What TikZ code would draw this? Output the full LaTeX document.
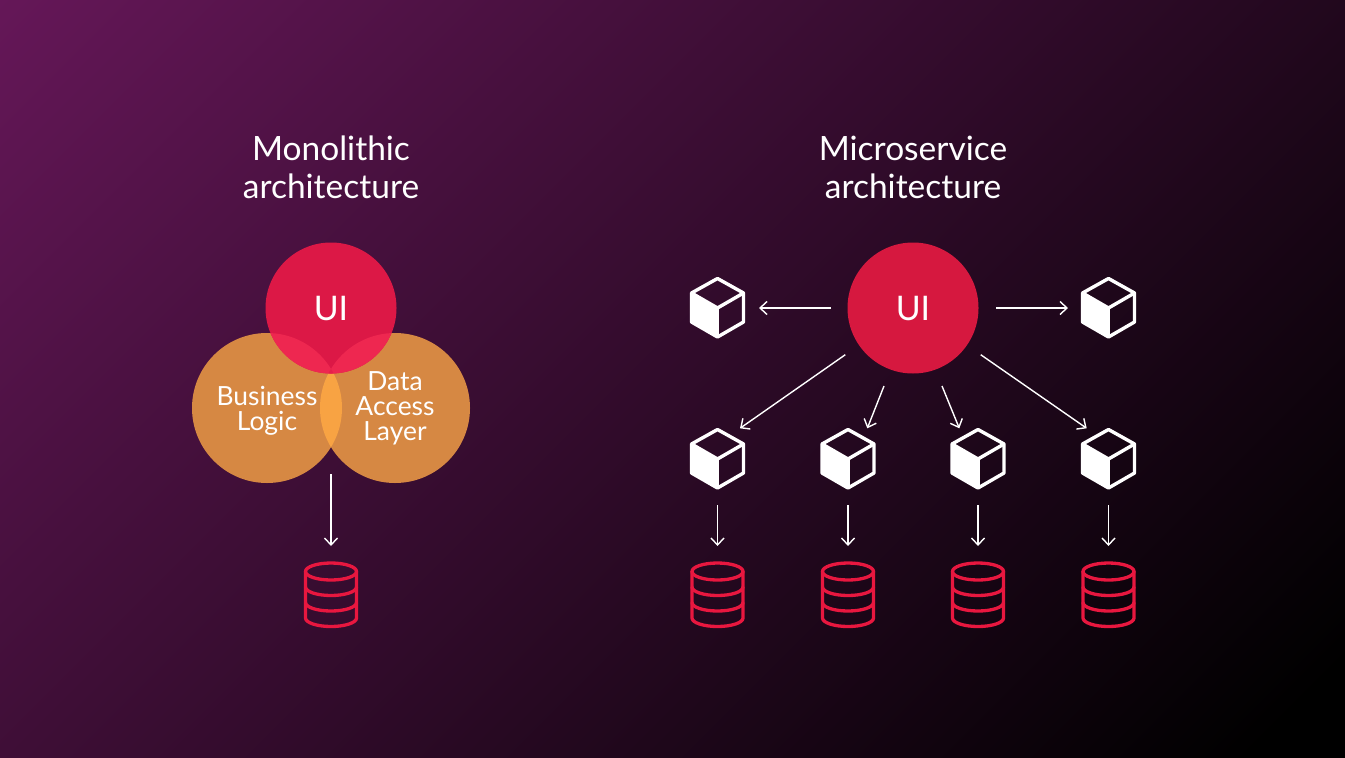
\documentclass[tikz,border=0pt]{standalone}
\usepackage{fontspec}
\setmainfont{Lato}
\usetikzlibrary{arrows.meta,calc}
\definecolor{bgA}{HTML}{651758}
\definecolor{bgB}{HTML}{000000}
\definecolor{uiRed}{HTML}{DC1846}
\definecolor{uiRedB}{HTML}{D6183F}
\definecolor{lapRed}{HTML}{EE2750}
\definecolor{orangeC}{HTML}{D68843}
\definecolor{lapOrange}{HTML}{F8A343}
\definecolor{dbRed}{HTML}{E8173F}
\pgfdeclarehorizontalshading{bgshade}{1490bp}{color(0bp)=(bgA); color(1420bp)=(bgB); color(1490bp)=(bgB)}
\tikzset{
  titletext/.style={text=white,align=center,font=\fontsize{33.6}{38}\selectfont,inner sep=0pt},
  labeltext/.style={text=white,align=center,font=\fontsize{26.5}{25}\selectfont,inner sep=0pt},
  uitext/.style={text=white,font=\fontsize{34}{38}\selectfont,inner sep=0pt},
  arrowline/.style={draw=white,line width=1.4bp,-{Straight Barb[length=7bp,width=13bp,line width=1.4bp]}},
  anchorbox/.style={inner sep=0pt,minimum size=1bp},
  cubeline/.style={draw=white,line width=3.4bp,line join=round},
  dbline/.style={draw=dbRed,line width=3.3bp,line cap=round,line join=round}
}
\newcommand{\cubeicon}[3]{% name, x, y
  \node[anchorbox] (#1) at (#2,#3) {};
  \begin{scope}[shift={(#2,#3)}]
    \fill[white] (-26,-15) -- (0,0) -- (0,29) -- (-26,14) -- cycle;
    \path[cubeline] (0,-29.5) -- (26,-15) -- (26,14) -- (0,29) -- (-26,14) -- (-26,-15) -- cycle;
    \path[cubeline] (-26,-15) -- (0,0) -- (26,-15);
    \path[cubeline] (0,0) -- (0,29);
  \end{scope}
}
\newcommand{\dbicon}[2]{% name, x
  \node[anchorbox] (#1) at (#2,594) {};
  \begin{scope}[shift={(#2,0)}]
    \path[dbline] (0,571.5) ellipse [x radius=25.5,y radius=8.5];
    \path[dbline] (-25.5,571.5) -- (-25.5,618) arc [start angle=180,end angle=360,x radius=25.5,y radius=-8.5] -- (25.5,571.5);
    \path[dbline] (-25.5,587) arc [start angle=180,end angle=360,x radius=25.5,y radius=-8.5];
    \path[dbline] (-25.5,602.5) arc [start angle=180,end angle=360,x radius=25.5,y radius=-8.5];
  \end{scope}
}
\begin{document}
\begin{tikzpicture}[x=1bp,y=-1bp]
\useasboundingbox (0,0) rectangle (1345,757);
\begin{scope}
  \clip (0,0) rectangle (1345,757);
  \node[inner sep=0pt,rotate=-45] (bg) at (672.5,378.5) {\pgfuseshading{bgshade}};
\end{scope}

% Monolithic
\node[titletext] (titleL) at (331,167) {Monolithic\\architecture};
\fill[orangeC] (267,408) circle (75);
\fill[orangeC] (395,408) circle (75);
\begin{scope}
  \clip (267,408) circle (75);
  \fill[lapOrange] (395,408) circle (75);
\end{scope}
\node[circle,fill=uiRed,minimum size=131bp,inner sep=0pt] (uiL) at (331,308) {};
\begin{scope}
  \clip (331,308) circle (65.5);
  \fill[lapRed] (267,408) circle (75);
  \fill[lapRed] (395,408) circle (75);
  \clip (267,408) circle (75);
  \fill[uiRed!50!lapRed] (395,408) circle (75);
\end{scope}
\node[uitext] (uiLt) at (331,309) {UI};
\node[labeltext] (biz) at (267,411) {Business\\Logic};
\node[labeltext] (dal) at (395,408) {Data\\Access\\Layer};
\coordinate (monoFrom) at (331,474);
\dbicon{dbL}{331}
\draw[arrowline] (monoFrom) -- ($(dbL)+(0,-48)$);

% Microservice
\node[titletext] (titleR) at (913,167) {Microservice\\architecture};
\node[circle,fill=uiRedB,minimum size=131bp,inner sep=0pt] (uiR) at (913,308) {};
\node[uitext] (uiRt) at (913,309) {UI};
\cubeicon{cTL}{717.5}{308}
\cubeicon{cTR}{1108.5}{308}
\cubeicon{cA}{717.5}{459}
\cubeicon{cB}{848}{459}
\cubeicon{cC}{978}{459}
\cubeicon{cD}{1108.5}{459}
\dbicon{dbA}{717.5}
\dbicon{dbB}{848}
\dbicon{dbC}{978}
\dbicon{dbD}{1108.5}

\draw[arrowline] ($(uiR)+(-82,0)$) -- ($(cTL)+(41.5,0)$);
\draw[arrowline] ($(uiR)+(83,0)$) -- ($(cTR)+(-40.5,0)$);
\draw[arrowline] ($(uiR)+(-67.7,46.7)$) -- ($(cA)+(22.5,-30.7)$);
\draw[arrowline] ($(uiR)+(-29,78)$) -- ($(cB)+(19.3,-30.7)$);
\draw[arrowline] ($(uiR)+(29,78)$) -- ($(cC)+(-18.7,-30.7)$);
\draw[arrowline] ($(uiR)+(67.7,46.7)$) -- ($(cD)+(-21.8,-30.7)$);
\draw[arrowline] ($(cA)+(0,46)$) -- ($(dbA)+(0,-48)$);
\draw[arrowline] ($(cB)+(0,46)$) -- ($(dbB)+(0,-48)$);
\draw[arrowline] ($(cC)+(0,46)$) -- ($(dbC)+(0,-48)$);
\draw[arrowline] ($(cD)+(0,46)$) -- ($(dbD)+(0,-48)$);
\end{tikzpicture}
\end{document}
